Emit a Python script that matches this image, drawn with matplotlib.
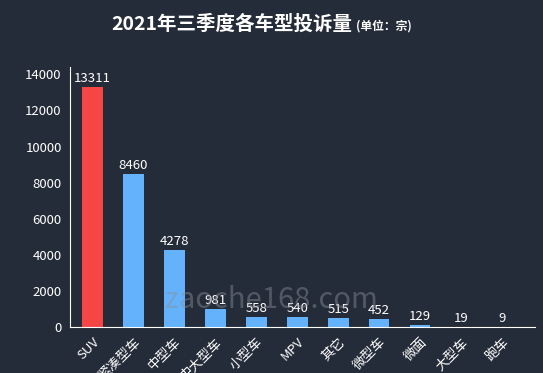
import matplotlib.pyplot as plt

plt.rcParams['font.family'] = ['Noto Sans CJK SC', 'DejaVu Sans']

categories = ['SUV', '紧凑型车', '中型车', '中大型车', '小型车', 'MPV', '其它', '微型车', '微面', '大型车', '跑车']
counts = [13311, 8460, 4278, 981, 558, 540, 515, 452, 129, 19, 9]
y_ticks = [0, 2000, 4000, 6000, 8000, 10000, 12000, 14000]

bg = '#252c39'
colors = ['#f54545'] + ['#63b2fb'] * (len(counts) - 1)

fig = plt.figure(figsize=(5.43, 3.73), dpi=100, facecolor=bg)
ax = fig.add_axes([0.129, 0.123, 0.856, 0.697], facecolor=bg)

x = range(len(categories))
ax.bar(x, counts, width=0.5, color=colors, zorder=2)
for xi, v in zip(x, counts):
    ax.text(xi, v + 120, str(v), ha='center', va='bottom', color='white', fontsize=9.5)

ax.set_xlim(-0.55, 10.8)
ax.set_ylim(0, 14400)
ax.set_yticks(y_ticks)
ax.set_yticklabels([str(t) for t in y_ticks], color='white', fontsize=9.5)
ax.set_xticks(list(x))
ax.set_xticklabels(categories, rotation=45, ha='right', rotation_mode='anchor',
                   color='white', fontsize=9.5)
ax.tick_params(length=0, pad=6)
for side in ['top', 'right']:
    ax.spines[side].set_visible(False)
ax.spines['left'].set_color('white')
ax.spines['bottom'].set_color('white')

# watermark
fig.text(0.5, 0.195, 'zaoche168.com', color='#8a8f99', alpha=0.45, fontsize=21,
         ha='center', va='center')

fig.text(0.205, 0.935, '2021年三季度各车型投诉量', color='white', fontsize=14,
         fontweight='bold', ha='left', va='center')
fig.text(0.655, 0.930, '(单位：宗)', color='white', fontsize=8.5,
         fontweight='bold', ha='left', va='center')

fig.savefig('out.png', dpi=100, facecolor=bg)
